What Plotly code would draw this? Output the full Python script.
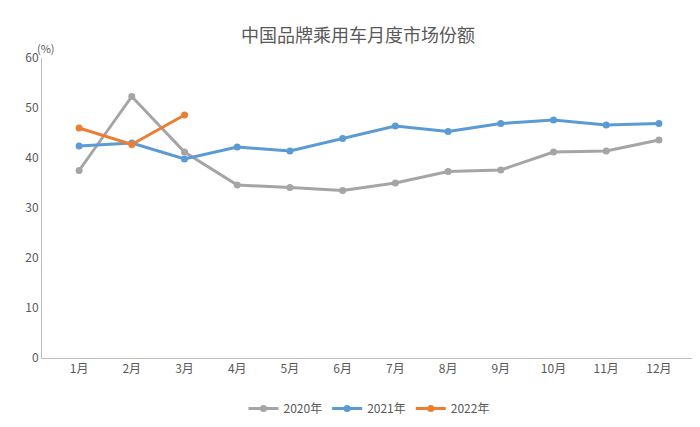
import plotly.graph_objects as go

months = ["1月","2月","3月","4月","5月","6月","7月","8月","9月","10月","11月","12月"]
s2020 = [37.5,52.3,41.2,34.6,34.1,33.5,35.0,37.3,37.6,41.2,41.4,43.6]
s2021 = [42.4,43.0,39.8,42.2,41.4,43.9,46.4,45.3,46.9,47.6,46.6,46.9]
s2022 = [46.0,42.7,48.6]

fig = go.Figure()
for name, ys, col in [("2020年", s2020, "#A5A5A5"), ("2021年", s2021, "#5B9BD5"), ("2022年", s2022, "#ED7D31")]:
    fig.add_trace(go.Scatter(x=months[:len(ys)], y=ys, name=name, mode="lines+markers",
                             line=dict(color=col, width=3), marker=dict(size=7, color=col)))

fig.update_layout(
    width=700, height=427, margin=dict(l=34, r=12, t=50, b=66),
    paper_bgcolor="white", plot_bgcolor="white",
    font=dict(family="Noto Sans CJK SC", size=12, color="#595959"),
    title=dict(text="中国品牌乘用车月度市场份额", x=0.5, y=0.95, xanchor="center", font=dict(size=18, color="#595959")),
    xaxis=dict(showline=True, linecolor="#BFBFBF", ticks="", showgrid=False),
    yaxis=dict(range=[0, 60], dtick=10, showgrid=False, showline=True, linecolor="#BFBFBF", ticks="", zeroline=False),
    legend=dict(orientation="h", x=0.5, xanchor="center", y=-0.12, yanchor="top"),
    annotations=[dict(text="(%)", xref="paper", yref="paper", x=-0.01, y=1.0, yanchor="bottom", showarrow=False, font=dict(size=11))],
)
fig.write_html("out.html")
